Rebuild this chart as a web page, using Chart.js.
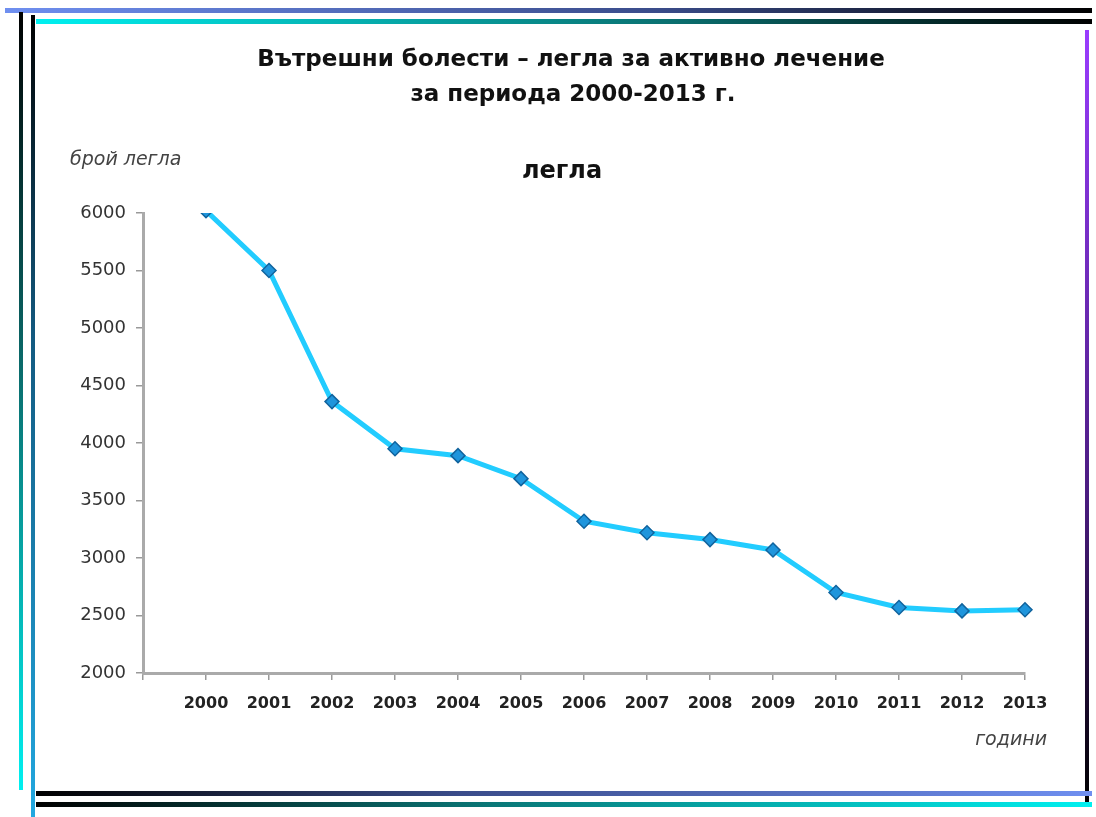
<!DOCTYPE html>
<html>
<head>
<meta charset="utf-8">
<title>Вътрешни болести – легла</title>
<script src="https://cdn.jsdelivr.net/npm/chart.js@4.4.1/dist/chart.umd.min.js"></script>
<style>
    html, body { margin: 0; padding: 0; background: #fff; }
    #wrap { position: relative; width: 1096px; height: 817px; overflow: hidden; }
    #chart { position: absolute; left: 0; top: 0; }
    .bar { position: absolute; }
</style>
</head>
<body>
<div id="wrap">
    <!-- decorative frame lines -->
    <div class="bar" style="left:5px; top:8px; width:1087px; height:5px; background:linear-gradient(to right, #6f8ff0, #3a4c8a 60%, #000);"></div>
    <div class="bar" style="left:36px; top:19px; width:1056px; height:5px; background:linear-gradient(to right, #00f0f0, #0a7070 60%, #000);"></div>
    <div class="bar" style="left:19px; top:12px; width:4px; height:778px; background:linear-gradient(to bottom, #000, #0a6a6a 45%, #00f0f0);"></div>
    <div class="bar" style="left:31px; top:15px; width:4px; height:802px; background:linear-gradient(to bottom, #000, #135a80 40%, #22a8e0);"></div>
    <div class="bar" style="left:1085px; top:30px; width:4px; height:772px; background:linear-gradient(to bottom, #9a3cff, #4b1c80 60%, #000);"></div>
    <div class="bar" style="left:36px; top:791px; width:1056px; height:5px; background:linear-gradient(to right, #000, #3a4c8a 40%, #6f8ff0);"></div>
    <div class="bar" style="left:36px; top:802px; width:1056px; height:5px; background:linear-gradient(to right, #000, #0a7070 40%, #00f0f0);"></div>
    <canvas id="chart" width="1096" height="817"></canvas>
</div>
<script>
// data
const years = ['2000', '2001', '2002', '2003', '2004', '2005', '2006',
               '2007', '2008', '2009', '2010', '2011', '2012', '2013'];
const beds = [6020, 5500, 4360, 3950, 3890, 3690, 3320,
              3220, 3160, 3070, 2700, 2570, 2540, 2550];
const yTicks = [2000, 2500, 3000, 3500, 4000, 4500, 5000, 5500, 6000];

const titleLines = ['Вътрешни болести – легла за активно лечение', 'за периода 2000-2013 г.'];
const subtitleText = 'легла';
const yCaption = 'брой легла';
const xCaption = 'години';

const FONT = "'DejaVu Sans', 'Liberation Sans', Arial, sans-serif";

// the category axis starts one step left of 2000 (empty slot at the y axis)
const labels = [''].concat(years);
const values = [null].concat(beds);

// titles and axis captions, placed like in the original slide
const captionPlugin = {
    id: 'captions',
    afterDraw(chart) {
        const ctx = chart.ctx;
        const area = chart.chartArea;
        ctx.save();
        ctx.textBaseline = 'middle';
        ctx.textAlign = 'center';
        ctx.fillStyle = '#111';
        ctx.font = 'bold 23px ' + FONT;
        ctx.fillText(titleLines[0], 571, 60);
        ctx.fillText(titleLines[1], 573, 95);
        ctx.font = 'bold 24px ' + FONT;
        ctx.fillText(subtitleText, 562, 172);

        ctx.fillStyle = '#444';
        ctx.font = 'italic 19px ' + FONT;
        ctx.textAlign = 'left';
        ctx.fillText(yCaption, 70, area.top - 53);
        ctx.textAlign = 'right';
        ctx.fillText(xCaption, area.right + 22, area.bottom + 67);
        ctx.restore();
    }
};

const ctx = document.getElementById('chart');
new Chart(ctx, {
    type: 'line',
    data: {
        labels: labels,
        datasets: [{
            label: 'легла',
            data: values,
            borderColor: '#22ccff',
            borderWidth: 5,
            tension: 0,
            pointStyle: 'rectRot',
            pointRadius: 7,
            pointBackgroundColor: '#1f95dc',
            pointBorderColor: '#11649e',
            pointBorderWidth: 1.5
        }]
    },
    options: {
        responsive: false,
        animation: false,
        layout: { padding: { left: 60, right: 71, top: 213, bottom: 84 } },
        plugins: {
            legend: { display: false },
            tooltip: { enabled: false },
            title: { display: false }
        },
        scales: {
            x: {
                offset: false,
                grid: { display: true, drawOnChartArea: false, drawTicks: true, tickLength: 7, color: '#999', lineWidth: 1.5 },
                border: { display: true, color: '#aaa', width: 3 },
                ticks: {
                    color: '#222',
                    padding: 14,
                    maxRotation: 0,
                    autoSkip: false,
                    font: { family: FONT, size: 16, weight: 'bold' }
                },
                afterFit(scale) { scale.height = 60; }
            },
            y: {
                min: 2000,
                max: 6000,
                afterBuildTicks(scale) { scale.ticks = yTicks.map(v => ({ value: v })); },
                grid: { display: true, drawOnChartArea: false, drawTicks: true, tickLength: 7, color: '#999', lineWidth: 1.5 },
                border: { display: true, color: '#aaa', width: 3 },
                ticks: {
                    color: '#333',
                    padding: 10,
                    font: { family: FONT, size: 18 },
                    callback: (value) => String(value)
                },
                afterFit(scale) { scale.width = 83; }
            }
        }
    },
    plugins: [captionPlugin]
});
</script>
</body>
</html>
